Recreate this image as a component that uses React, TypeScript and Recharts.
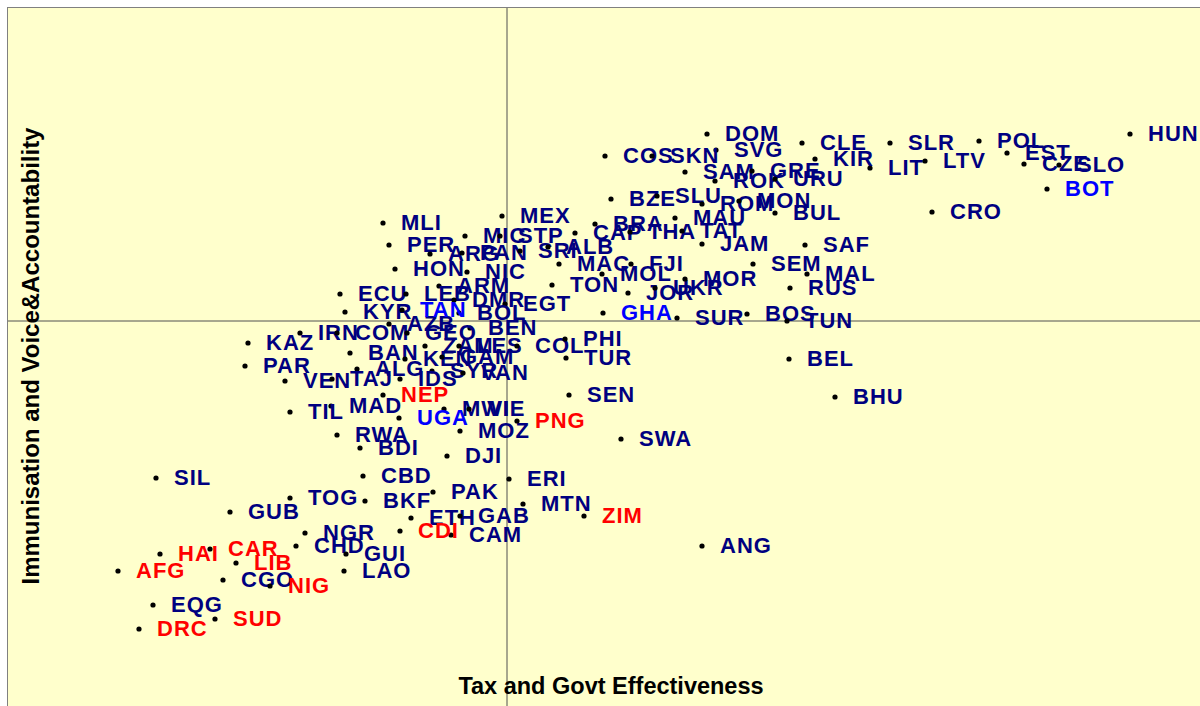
import { ScatterChart, Scatter, XAxis, YAxis, ReferenceLine } from 'recharts';

// [code, tax & govt effectiveness, immunisation & voice/accountability]
const otherCountries: [string, number, number][] = [
  ['HUN', 6.23, 1.87], ['SLR', 3.83, 1.78], ['POL', 4.72, 1.8], ['EST', 5.0, 1.68],
  ['CZE', 5.17, 1.57], ['SLO', 5.52, 1.56], ['LIT', 3.63, 1.53], ['LTV', 4.18, 1.6],
  ['CRO', 4.25, 1.09], ['CLE', 2.95, 1.78], ['KIR', 3.08, 1.62], ['DOM', 2.0, 1.87],
  ['SVG', 2.09, 1.71], ['COS', 0.98, 1.65], ['SKN', 1.45, 1.65], ['SAM', 1.78, 1.49],
  ['GRE', 2.45, 1.5], ['ROK', 2.08, 1.4], ['URU', 2.68, 1.42], ['BZE', 1.04, 1.22],
  ['SLU', 1.5, 1.25], ['ROM', 1.95, 1.17], ['MON', 2.32, 1.2], ['BUL', 2.68, 1.08],
  ['MAU', 1.68, 1.03], ['BRA', 0.88, 0.97], ['CAP', 0.68, 0.88], ['THA', 1.23, 0.89],
  ['TAT', 1.75, 0.9], ['JAM', 1.95, 0.77], ['SAF', 2.98, 0.76], ['MEX', -0.05, 1.05],
  ['MLI', -1.24, 0.98], ['PER', -1.18, 0.76], ['ARG', -0.77, 0.67], ['PAN', -0.45, 0.68],
  ['MIC', -0.42, 0.85], ['STP', -0.07, 0.85], ['SRI', 0.13, 0.7], ['ALB', 0.41, 0.74],
  ['HON', -1.12, 0.52], ['NIC', -0.4, 0.49], ['ARM', -0.68, 0.35], ['ECU', -1.67, 0.27],
  ['LEB', -1.01, 0.27], ['DMR', -0.53, 0.21], ['EGT', -0.02, 0.17], ['KYR', -1.62, 0.09],
  ['BOL', -0.48, 0.08], ['AZB', -1.18, -0.03], ['BEN', -0.37, -0.07], ['IRN', -2.07, -0.12],
  ['COM', -1.7, -0.12], ['GEO', -1.0, -0.12], ['KAZ', -2.59, -0.22], ['ZAM', -0.82, -0.25],
  ['LES', -0.48, -0.25], ['COL', 0.1, -0.25], ['PHI', 0.58, -0.18], ['TUR', 0.59, -0.37],
  ['BAN', -1.57, -0.32], ['KEN', -1.02, -0.38], ['GAM', -0.65, -0.36], ['PAR', -2.62, -0.45],
  ['ALG', -1.5, -0.48], ['SYR', -0.75, -0.5], ['VAN', -0.44, -0.52], ['VEN', -2.22, -0.6],
  ['TAJ', -1.75, -0.58], ['IDS', -1.07, -0.58], ['MAD', -1.76, -0.85], ['TIL', -2.17, -0.91],
  ['MWI', -0.63, -0.88], ['VIE', -0.38, -0.88], ['MOZ', -0.47, -1.1], ['RWA', -1.7, -1.14],
  ['BDI', -1.47, -1.27], ['DJI', -0.6, -1.35], ['SEN', 0.62, -0.74], ['SWA', 1.14, -1.18],
  ['BEL', 2.82, -0.38], ['BHU', 3.28, -0.76], ['SUR', 1.7, 0.03], ['BOS', 2.4, 0.07],
  ['TUN', 2.8, 0.0], ['JOR', 1.21, 0.28], ['UKR', 1.48, 0.33], ['MOR', 1.78, 0.42],
  ['MOL', 0.95, 0.47], ['FJI', 1.24, 0.57], ['MAC', 0.52, 0.57], ['TON', 0.45, 0.36],
  ['SEM', 2.46, 0.57], ['MAL', 3.0, 0.47], ['RUS', 2.83, 0.33], ['SIL', -3.51, -1.57],
  ['CBD', -1.44, -1.55], ['TOG', -2.17, -1.77], ['BKF', -1.42, -1.8], ['GUB', -2.77, -1.91],
  ['NGR', -2.02, -2.12], ['CHD', -2.11, -2.25], ['GUI', -1.61, -2.33], ['LAO', -1.63, -2.5],
  ['CGO', -2.84, -2.59], ['EQG', -3.54, -2.84], ['PAK', -0.74, -1.71], ['ERI', 0.02, -1.58],
  ['MTN', 0.16, -1.83], ['ETH', -0.96, -1.97], ['GAB', -0.47, -1.95], ['CAM', -0.56, -2.14],
  ['ANG', 1.95, -2.25],
];

const fragileCountries: [string, number, number][] = [
  ['NEP', -1.24, -0.74], ['PNG', 0.1, -1.0], ['ZIM', 0.77, -1.95], ['CDI', -1.07, -2.1],
  ['HAI', -3.47, -2.33], ['CAR', -2.97, -2.28], ['LIB', -2.71, -2.42], ['AFG', -3.89, -2.5],
  ['NIG', -2.37, -2.65], ['SUD', -2.92, -2.98], ['DRC', -3.68, -3.08],
];

const highlightCountries: [string, number, number][] = [
  ['BOT', 5.4, 1.32], ['TAN', -1.05, 0.11], ['GHA', 0.96, 0.08], ['UGA', -1.08, -0.97],
];

const toPoints = (rows: [string, number, number][]) =>
  rows.map(([code, x, y]) => ({ code, x, y }));

const FONT = '"Liberation Sans", Arial, sans-serif';

const labelledDot = (color: string) => (props: any) => {
  const { cx, cy, payload } = props;
  return (
    <g>
      <circle cx={cx} cy={cy} r={2.6} fill="#000" />
      <text
        x={cx + 18}
        y={cy + 7}
        fill={color}
        fontSize={22}
        fontWeight="bold"
        fontFamily={FONT}
        letterSpacing={1}
      >
        {payload.code}
      </text>
    </g>
  );
};

export default function App() {
  return (
    <div style={{ position: 'relative', width: 1200, height: 706, overflow: 'hidden', background: '#fff' }}>
      <style>{'body{margin:0;overflow:hidden}'}</style>
      <div
        style={{
          position: 'absolute',
          left: 7,
          top: 7,
          width: 1200,
          height: 706,
          background: '#FFFFCC',
          border: '1px solid #808080',
        }}
      />
      <div style={{ position: 'absolute', left: 8, top: 8 }}>
        <ScatterChart width={1192} height={698} margin={{ top: 0, right: 0, bottom: 0, left: 0 }}>
          <XAxis type="number" dataKey="x" domain={[-4.99, 6.93]} allowDataOverflow hide />
          <YAxis type="number" dataKey="y" domain={[-3.85, 3.13]} allowDataOverflow hide />
          <ReferenceLine x={0} stroke="#505050" strokeWidth={1} />
          <ReferenceLine y={0} stroke="#505050" strokeWidth={1} />
          <Scatter data={toPoints(otherCountries)} shape={labelledDot('#000080')} isAnimationActive={false} />
          <Scatter data={toPoints(fragileCountries)} shape={labelledDot('#FF0000')} isAnimationActive={false} />
          <Scatter data={toPoints(highlightCountries)} shape={labelledDot('#0000FF')} isAnimationActive={false} />
        </ScatterChart>
      </div>
      <div
        style={{
          position: 'absolute',
          left: 611,
          top: 686,
          transform: 'translate(-50%, -50%)',
          fontFamily: FONT,
          fontWeight: 'bold',
          fontSize: 23.5,
          whiteSpace: 'nowrap',
          color: '#000',
        }}
      >
        Tax and Govt Effectiveness
      </div>
      <div
        style={{
          position: 'absolute',
          left: 31,
          top: 356,
          transform: 'translate(-50%, -50%) rotate(-90deg)',
          fontFamily: FONT,
          fontWeight: 'bold',
          fontSize: 24,
          whiteSpace: 'nowrap',
          color: '#000',
        }}
      >
        Immunisation and Voice&amp;Accountability
      </div>
    </div>
  );
}
